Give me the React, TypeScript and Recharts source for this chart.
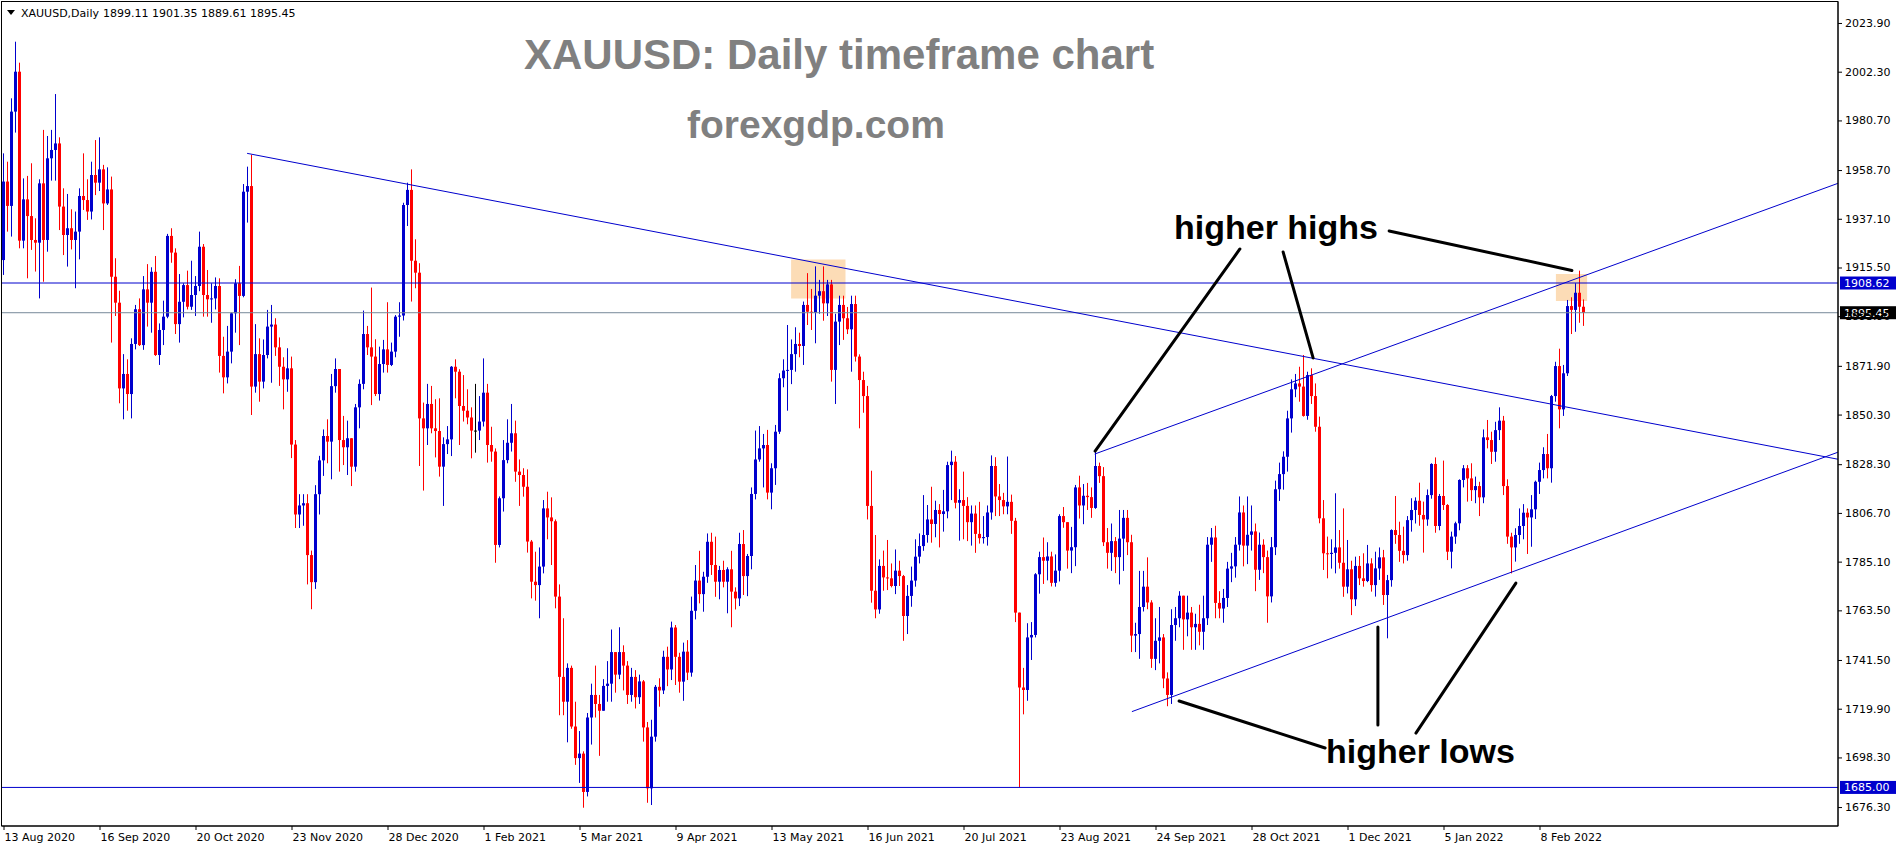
import React from "react";
import { ComposedChart, Bar, XAxis, YAxis, ReferenceLine, ReferenceArea } from "recharts";

// daily XAUUSD bars, 13 Aug 2020 .. 23 Feb 2022 (open = previous close)
const firstOpen = 1918.8;

const closes = [
  1953.6, 1942.8, 1984.6, 2002.3, 1927.4, 1945.7, 1938.3, 1927.7, 1926.5, 1952.8,
  1927.7, 1963.9, 1967.6, 1970.5, 1942.5, 1929.9, 1932.9, 1927.7, 1931.4, 1947.2,
  1945.4, 1940.3, 1956.5, 1953.1, 1959.0, 1943.9, 1950.1, 1911.4, 1899.9, 1861.9,
  1868.3, 1859.4, 1881.6, 1897.0, 1881.1, 1905.8, 1899.9, 1913.6, 1876.7, 1887.8,
  1893.7, 1929.5, 1922.1, 1890.4, 1900.3, 1907.7, 1898.1, 1903.3, 1907.3, 1924.7,
  1903.3, 1901.4, 1901.8, 1907.3, 1876.3, 1866.8, 1878.2, 1895.2, 1908.5, 1902.9,
  1949.1, 1951.6, 1862.7, 1877.1, 1864.9, 1876.7, 1889.3, 1890.2, 1880.1, 1871.5,
  1865.9, 1870.8, 1837.0, 1806.0, 1810.0, 1811.0, 1788.0, 1776.0, 1815.0, 1830.0,
  1840.8, 1838.3, 1862.9, 1870.5, 1839.0, 1835.8, 1839.8, 1827.2, 1853.5, 1863.9,
  1886.0, 1880.1, 1876.0, 1859.4, 1872.7, 1879.2, 1872.3, 1878.2, 1893.7, 1894.2,
  1943.2, 1949.9, 1918.5, 1913.2, 1848.6, 1844.2, 1855.0, 1844.2, 1843.0, 1827.2,
  1837.2, 1839.3, 1871.5, 1869.3, 1854.1, 1852.0, 1849.0, 1843.2, 1843.2, 1847.2,
  1860.0, 1836.8, 1833.9, 1792.5, 1813.2, 1830.1, 1837.8, 1842.0, 1825.0, 1823.5,
  1818.3, 1794.0, 1776.2, 1774.7, 1782.9, 1808.7, 1804.7, 1803.0, 1769.6, 1734.0,
  1723, 1738, 1712, 1698, 1700, 1683, 1716, 1726, 1722, 1719,
  1730, 1731, 1745, 1735, 1745, 1739, 1726, 1734, 1725, 1732,
  1711.6, 1684.6, 1707.5, 1729.6, 1728.0, 1742.9, 1737.3, 1755.9, 1742.9, 1731.9,
  1745.2, 1735.9, 1763.3, 1776.7, 1770.7, 1778.4, 1793.9, 1783.6, 1776.2, 1781.4,
  1776.2, 1781.7, 1771.8, 1768.8, 1792.9, 1778.7, 1787.6, 1815.1, 1830.4, 1835.3,
  1836.8, 1815.7, 1826.5, 1842.7, 1866.4, 1869.8, 1870.1, 1877.1, 1881.6, 1880.7,
  1898.9, 1895.9, 1895.5, 1903.0, 1905.0, 1899.6, 1908.0, 1870.1, 1891.5, 1898.9,
  1893.0, 1888.1, 1899.3, 1876.0, 1865.6, 1858.5, 1809.8, 1772.2, 1763.9, 1783.2,
  1778.1, 1777.7, 1774.3, 1781.1, 1778.7, 1761.0, 1769.9, 1776.7, 1787.3, 1792.0,
  1796.9, 1803.8, 1801.8, 1808.0, 1806.2, 1807.4, 1827.9, 1829.4, 1811.2, 1812.4,
  1809.8, 1802.6, 1806.4, 1797.4, 1795.5, 1796.0, 1806.9, 1827.5, 1814.0, 1812.4,
  1809.6, 1811.6, 1803.2, 1762.5, 1729.3, 1728.2, 1751.5, 1752.6, 1779.5, 1787.1,
  1785.5, 1787.4, 1775.7, 1781.1, 1805.3, 1802.6, 1790.0, 1791.5, 1818.0, 1810.0,
  1814.3, 1813.7, 1808.9, 1827.5, 1823.0, 1793.7, 1789.0, 1794.2, 1787.1, 1795.3,
  1804.5, 1793.7, 1752.3, 1753.0, 1765.0, 1774.0, 1767.0, 1742.0, 1750.0, 1751.5,
  1733.3, 1726.0, 1757.0, 1760.0, 1770.0, 1759.5, 1762.5, 1756.0, 1757.5, 1754.0,
  1760.0, 1792.6, 1795.8, 1766.8, 1764.3, 1769.0, 1782.0, 1783.0, 1792.6, 1806.9,
  1792.2, 1797.0, 1798.5, 1781.5, 1792.6, 1787.1, 1769.7, 1791.5, 1817.2, 1823.9,
  1831.6, 1848.6, 1861.5, 1864.1, 1862.7, 1849.7, 1867.8, 1858.5, 1844.9, 1804.3,
  1788.8, 1788.5, 1789.0, 1791.4, 1784.6, 1774.0, 1781.7, 1768.4, 1783.2, 1777.7,
  1776.5, 1784.3, 1774.7, 1782.1, 1787.0, 1770.3, 1776.9, 1799.1, 1796.9, 1789.9,
  1788.0, 1803.5, 1808.0, 1812.1, 1805.8, 1803.8, 1814.6, 1828.4, 1800.9, 1814.2,
  1810.2, 1789.5, 1796.2, 1802.1, 1821.3, 1826.5, 1822.0, 1816.8, 1818.6, 1813.6,
  1840.2, 1839.0, 1833.8, 1843.4, 1847.6, 1818.6, 1796.2, 1791.4, 1796.9, 1800.9,
  1806.8, 1804.7, 1808.3, 1820.5, 1825.7, 1832.8, 1826.5, 1858.5, 1871.8, 1852.6,
  1868.6, 1898.4, 1896.7, 1904.3, 1898.1, 1895.45,
];

const highs = [
  1966.1, 1962.4, 1990.5, 2015.6, 2006.3, 1955.0, 1956.1, 1961.7, 1937.3, 1954.6,
  1976.5, 1973.8, 1976.5, 1992.4, 1973.2, 1950.6, 1948.1, 1941.3, 1940.3, 1950.6,
  1966.1, 1954.6, 1962.4, 1972.0, 1973.2, 1961.0, 1959.9, 1955.8, 1919.6, 1905.2,
  1877.1, 1874.8, 1884.1, 1898.9, 1901.8, 1911.7, 1917.0, 1915.6, 1920.6, 1890.7,
  1900.8, 1930.4, 1932.9, 1924.0, 1912.6, 1908.5, 1914.1, 1918.5, 1911.7, 1931.4,
  1925.9, 1914.4, 1908.5, 1911.1, 1910.7, 1884.8, 1889.6, 1895.5, 1910.3, 1916.2,
  1952.5, 1960.2, 1965.4, 1890.4, 1884.1, 1883.6, 1896.7, 1898.9, 1893.0, 1884.5,
  1875.7, 1879.7, 1876.0, 1839.0, 1815.0, 1815.0, 1815.0, 1790.0, 1819.0, 1832.0,
  1843.7, 1848.2, 1868.3, 1875.2, 1870.4, 1849.7, 1847.6, 1839.0, 1855.0, 1865.9,
  1896.4, 1889.6, 1906.6, 1883.7, 1880.4, 1883.4, 1900.1, 1882.2, 1894.4, 1900.1,
  1944.2, 1953.1, 1959.0, 1928.0, 1917.4, 1855.6, 1863.9, 1863.0, 1857.1, 1857.5,
  1840.2, 1845.2, 1871.8, 1874.8, 1870.4, 1867.8, 1861.5, 1853.5, 1863.9, 1858.5,
  1875.2, 1863.9, 1844.9, 1835.3, 1814.0, 1839.0, 1848.2, 1855.0, 1847.6, 1830.4,
  1826.5, 1826.0, 1794.7, 1789.5, 1791.4, 1812.4, 1816.1, 1813.6, 1803.8, 1775.0,
  1760, 1740, 1739, 1723, 1710, 1701, 1718, 1731, 1739, 1726,
  1733, 1741, 1755, 1745, 1756, 1748, 1741, 1738, 1737, 1735,
  1732.6, 1714.0, 1715.0, 1730.4, 1733.4, 1745.6, 1747.4, 1758.5, 1757.0, 1744.7,
  1749.2, 1750.3, 1769.6, 1783.6, 1789.9, 1780.6, 1797.6, 1797.9, 1796.2, 1783.2,
  1785.5, 1782.6, 1789.9, 1773.7, 1797.9, 1799.1, 1788.5, 1818.0, 1843.2, 1845.2,
  1841.7, 1843.5, 1828.7, 1845.7, 1868.6, 1874.8, 1890.0, 1883.6, 1889.0, 1886.6,
  1900.4, 1913.0, 1906.0, 1916.0, 1910.0, 1916.0, 1910.0, 1910.0, 1895.0, 1903.0,
  1903.0, 1898.0, 1903.0, 1903.0, 1877.0, 1869.3, 1863.0, 1825.4, 1796.9, 1786.1,
  1790.0, 1794.7, 1784.3, 1790.5, 1785.5, 1779.2, 1774.7, 1782.9, 1795.0, 1797.6,
  1814.6, 1810.2, 1818.3, 1812.1, 1810.6, 1816.9, 1829.4, 1834.3, 1831.9, 1817.2,
  1825.0, 1813.7, 1810.0, 1810.0, 1811.6, 1805.3, 1810.0, 1832.2, 1831.4, 1819.5,
  1815.6, 1831.7, 1814.8, 1804.5, 1762.5, 1738.0, 1757.8, 1758.3, 1780.0, 1789.5,
  1795.8, 1793.7, 1789.5, 1788.3, 1806.1, 1809.3, 1802.6, 1800.5, 1819.1, 1823.2,
  1819.5, 1820.0, 1818.0, 1834.3, 1829.0, 1827.0, 1800.0, 1802.0, 1796.0, 1808.0,
  1808.0, 1808.0, 1797.0, 1758.0, 1781.0, 1781.0, 1787.0, 1768.0, 1760.0, 1765.0,
  1753.0, 1736.0, 1764.0, 1765.0, 1772.0, 1770.0, 1770.0, 1765.0, 1762.0, 1766.0,
  1770.0, 1796.0, 1800.0, 1801.0, 1772.0, 1773.0, 1785.0, 1789.0, 1796.0, 1814.0,
  1810.0, 1814.0, 1810.0, 1802.0, 1798.0, 1795.0, 1790.0, 1796.0, 1821.0, 1829.0,
  1834.0, 1852.0, 1865.9, 1868.3, 1871.5, 1876.7, 1869.3, 1870.8, 1864.1, 1849.4,
  1812.4, 1796.2, 1795.0, 1815.4, 1799.1, 1808.7, 1794.7, 1785.5, 1787.3, 1787.6,
  1788.8, 1792.5, 1786.6, 1789.5, 1791.4, 1790.3, 1779.2, 1799.4, 1814.2, 1802.8,
  1800.6, 1805.3, 1813.2, 1813.6, 1820.1, 1811.7, 1817.1, 1828.7, 1831.3, 1815.1,
  1829.9, 1810.6, 1798.4, 1802.8, 1821.6, 1827.9, 1827.9, 1828.7, 1822.8, 1820.5,
  1843.7, 1847.9, 1842.7, 1847.1, 1853.5, 1849.7, 1821.6, 1797.9, 1799.9, 1808.7,
  1810.6, 1808.7, 1814.6, 1821.0, 1829.0, 1835.8, 1841.7, 1859.0, 1873.7, 1879.5,
  1872.3, 1901.1, 1902.3, 1908.5, 1914.1, 1901.35,
];

const lows = [
  1912.2, 1931.4, 1929.2, 1975.3, 1924.0, 1924.0, 1910.7, 1923.3, 1913.7, 1901.8,
  1909.2, 1922.5, 1954.0, 1954.0, 1932.1, 1921.0, 1915.9, 1923.5, 1906.3, 1919.1,
  1941.0, 1936.6, 1936.8, 1947.6, 1949.4, 1932.1, 1943.2, 1882.2, 1894.0, 1855.3,
  1848.2, 1852.0, 1848.6, 1879.2, 1880.7, 1879.0, 1889.3, 1886.6, 1876.3, 1872.3,
  1881.1, 1893.0, 1917.6, 1886.0, 1882.2, 1893.4, 1896.9, 1896.7, 1894.0, 1905.0,
  1893.7, 1893.7, 1891.0, 1896.9, 1868.9, 1859.7, 1864.1, 1873.0, 1886.6, 1881.1,
  1902.3, 1935.4, 1850.1, 1860.0, 1856.0, 1861.9, 1875.2, 1864.4, 1876.3, 1863.0,
  1852.6, 1860.4, 1831.0, 1800.0, 1800.0, 1801.0, 1775.0, 1764.0, 1773.0, 1806.0,
  1823.1, 1828.7, 1821.6, 1860.0, 1825.0, 1827.9, 1823.5, 1818.6, 1825.0, 1844.2,
  1861.5, 1876.7, 1854.5, 1858.5, 1856.5, 1868.9, 1868.9, 1871.8, 1875.7, 1884.8,
  1892.0, 1933.9, 1900.4, 1906.3, 1827.5, 1816.6, 1836.8, 1842.0, 1831.3, 1822.8,
  1809.8, 1832.8, 1831.9, 1857.5, 1836.8, 1847.2, 1846.0, 1830.9, 1833.4, 1839.0,
  1845.0, 1829.0, 1829.4, 1784.6, 1791.4, 1807.3, 1828.7, 1833.9, 1820.5, 1809.8,
  1813.9, 1789.1, 1768.8, 1767.8, 1760.0, 1779.9, 1795.0, 1783.6, 1764.4, 1717.0,
  1717, 1705, 1711, 1695, 1687, 1676, 1681, 1704, 1716, 1699,
  1719, 1723, 1723, 1727, 1733, 1728, 1722, 1723, 1720, 1722,
  1705.3, 1678.2, 1677.2, 1705.3, 1720.8, 1726.4, 1729.9, 1732.6, 1730.4, 1727.0,
  1723.4, 1732.6, 1734.1, 1759.5, 1766.6, 1762.9, 1775.7, 1779.2, 1769.5, 1768.4,
  1773.7, 1762.2, 1756.0, 1763.9, 1765.4, 1770.3, 1769.8, 1781.7, 1812.7, 1829.4,
  1818.0, 1812.7, 1808.3, 1819.1, 1841.7, 1862.4, 1852.0, 1863.8, 1869.3, 1875.7,
  1872.3, 1890.0, 1887.8, 1881.9, 1895.0, 1891.9, 1894.0, 1864.9, 1855.0, 1881.1,
  1883.4, 1886.0, 1869.3, 1873.8, 1844.2, 1851.1, 1803.8, 1766.9, 1760.0, 1762.0,
  1772.2, 1772.5, 1773.7, 1770.7, 1774.3, 1750.0, 1753.0, 1765.1, 1774.0, 1784.3,
  1789.9, 1793.5, 1793.5, 1795.9, 1791.4, 1798.4, 1804.3, 1812.4, 1808.7, 1794.4,
  1795.0, 1794.2, 1792.2, 1789.0, 1793.1, 1793.1, 1792.2, 1803.7, 1805.3, 1805.3,
  1806.1, 1806.1, 1797.4, 1758.3, 1685.0, 1717.4, 1723.4, 1741.5, 1751.5, 1770.9,
  1775.2, 1776.8, 1774.1, 1774.0, 1776.3, 1800.1, 1782.0, 1780.0, 1783.1, 1804.2,
  1801.7, 1808.0, 1804.5, 1808.5, 1820.0, 1792.0, 1782.0, 1781.0, 1780.0, 1775.0,
  1781.0, 1788.0, 1745.0, 1745.0, 1742.0, 1763.0, 1764.0, 1738.0, 1737.0, 1740.0,
  1729.0, 1721.0, 1722.0, 1750.0, 1756.0, 1746.0, 1752.0, 1746.0, 1746.0, 1748.0,
  1746.0, 1757.0, 1785.0, 1760.0, 1760.0, 1758.0, 1765.0, 1776.0, 1778.0, 1790.0,
  1783.0, 1784.0, 1790.0, 1772.0, 1777.0, 1780.0, 1758.0, 1767.0, 1788.0, 1812.0,
  1817.0, 1825.0, 1842.3, 1858.0, 1856.0, 1849.4, 1848.0, 1855.0, 1842.7, 1802.1,
  1781.4, 1777.7, 1782.0, 1779.9, 1782.0, 1769.5, 1771.0, 1761.4, 1765.4, 1774.7,
  1774.0, 1776.0, 1771.8, 1769.6, 1777.0, 1765.9, 1751.1, 1774.0, 1793.0, 1785.0,
  1784.3, 1785.5, 1798.4, 1802.0, 1801.0, 1789.1, 1801.0, 1813.0, 1797.9, 1799.0,
  1808.0, 1785.8, 1782.1, 1793.0, 1799.0, 1818.0, 1811.7, 1812.0, 1811.0, 1805.3,
  1811.0, 1835.3, 1828.4, 1829.4, 1839.0, 1814.6, 1793.0, 1779.9, 1785.1, 1793.0,
  1795.0, 1788.5, 1791.7, 1804.0, 1815.1, 1822.0, 1822.0, 1820.1, 1856.0, 1844.2,
  1849.7, 1867.4, 1886.0, 1887.0, 1891.0, 1889.61,
];

const dateLabels = [
  "13 Aug 2020", "16 Sep 2020", "20 Oct 2020", "23 Nov 2020", "28 Dec 2020", "1 Feb 2021",
  "5 Mar 2021", "9 Apr 2021", "13 May 2021", "16 Jun 2021", "20 Jul 2021", "23 Aug 2021",
  "24 Sep 2021", "28 Oct 2021", "1 Dec 2021", "5 Jan 2022", "8 Feb 2022",
];
const dateTickIdx = [0, 24, 48, 72, 96, 120, 144, 168, 192, 216, 240, 264, 288, 312, 336, 360, 384];

const priceTicks = [
  2023.9, 2002.3, 1980.7, 1958.7, 1937.1, 1915.5, 1893.9, 1871.9, 1850.3,
  1828.3, 1806.7, 1785.1, 1763.5, 1741.5, 1719.9, 1698.3, 1676.3,
];

// drawn objects, in (bar index, price)
const trendLines = [
  [[60.9, 1966.1], [458.6, 1830.5]],
  [[282.1, 1718.6], [458.6, 1833.6]],
  [[272.8, 1832.8], [458.6, 1952.8]],
];
const arrowLines = [
  [[309.1, 1923.7], [272.9, 1834.1]],
  [[319.9, 1922.4], [327.4, 1875.4]],
  [[346.4, 1931.7], [392.1, 1914.2]],
  [[293.9, 1723.3], [330.4, 1702.5]],
  [[343.6, 1756.1], [343.6, 1712.7]],
  [[378.1, 1775.6], [353.1, 1709.1]],
];
const zones = [
  [196.9, 210.5, 1901.8, 1919.0],
  [388.1, 395.9, 1900.6, 1912.6],
];
const levels = [
  { price: 1908.62, line: "#0000CD", tag: "#0000CD" },
  { price: 1895.45, line: "#778899", tag: "#000000" },
  { price: 1685.0, line: "#0000CD", tag: "#0000CD" },
];

const BULL = "#0000CD";
const BEAR = "#FF0000";
const AXIS_FONT = "DejaVu Sans";

const candles = closes.map((close, i) => {
  const open = i === 0 ? firstOpen : closes[i - 1];
  const high = Math.max(highs[i], open, close);
  const low = Math.min(lows[i], open, close);
  return { i, open, close, high, low, range: [low, high] };
});

const Candle = (props: any) => {
  const { x, y, width, height, payload } = props;
  if (x == null || y == null || !payload) return null;
  const { open, close, high, low } = payload;
  const k = high > low ? height / (high - low) : 0;
  const py = (p: number) => y + (high - p) * k;
  const cx = Math.floor(x + width / 2);
  const color = close > open ? BULL : close < open ? BEAR : "#000";
  const top = py(Math.max(open, close));
  const bot = py(Math.min(open, close));
  return (
    <g>
      <line x1={cx + 0.5} x2={cx + 0.5} y1={y} y2={y + height} stroke={color} strokeWidth={1} />
      <rect x={cx - 1} y={top} width={3} height={Math.max(1, bot - top)} fill={color} />
    </g>
  );
};

const DateTick = ({ x, y, payload }: any) => {
  const k = dateTickIdx.indexOf(payload.value);
  return (
    <g>
      <line x1={x + 0.5} x2={x + 0.5} y1={y} y2={y + 4} stroke="#000" />
      <text x={x + 1} y={y + 15} fontSize={11} fontFamily={AXIS_FONT} fill="#000">
        {k >= 0 ? dateLabels[k] : ""}
      </text>
    </g>
  );
};

const PriceTick = ({ x, y, payload }: any) => (
  <g>
    <line x1={x} x2={x + 4} y1={y + 0.5} y2={y + 0.5} stroke="#000" />
    <text x={x + 7} y={y + 4} fontSize={11} fontFamily={AXIS_FONT} fill="#000">
      {Number(payload.value).toFixed(2)}
    </text>
  </g>
);

const tag = (price: number, bg: string) => (props: any) => {
  const vb = props.viewBox || {};
  const right = (vb.x || 0) + (vb.width || 0);
  const y = vb.y || 0;
  return (
    <g>
      <rect x={right + 2} y={y - 6.5} width={56} height={13} fill={bg} />
      <text x={right + 6} y={y + 4} fontSize={11} fontFamily={AXIS_FONT} fill="#fff">
        {price.toFixed(2)}
      </text>
    </g>
  );
};

export default function App() {
  return (
    <div style={{ position: "absolute", left: 0, top: 0, width: 1902, height: 850, background: "#fff" }}>
      <ComposedChart
        width={1902}
        height={850}
        data={candles}
        margin={{ top: 2, right: 0, bottom: 0, left: 2 }}
      >
        <XAxis
          dataKey="i"
          type="number"
          domain={[-0.375, 458.625]}
          allowDataOverflow
          ticks={dateTickIdx}
          interval={0}
          height={24}
          tickSize={0}
          tickMargin={0}
          tick={<DateTick />}
          axisLine={{ stroke: "#000" }}
        />
        <YAxis
          orientation="right"
          type="number"
          domain={[1667.9, 2033.2]}
          allowDataOverflow
          ticks={priceTicks}
          interval={0}
          width={64}
          tickSize={0}
          tickMargin={0}
          tick={<PriceTick />}
          axisLine={{ stroke: "#000" }}
        />
        {zones.map(([x1, x2, y1, y2], k) => (
          <ReferenceArea key={"z" + k} x1={x1} x2={x2} y1={y1} y2={y2} fill="#FAC07A" fillOpacity={0.55} stroke="none" />
        ))}
        <Bar dataKey="range" barSize={4} shape={<Candle />} isAnimationActive={false} />
        {levels.map((l, k) => (
          <ReferenceLine key={"l" + k} y={l.price} stroke={l.line} strokeWidth={1} label={tag(l.price, l.tag)} />
        ))}
        {trendLines.map(([a, b], k) => (
          <ReferenceLine
            key={"t" + k}
            segment={[{ x: a[0], y: a[1] }, { x: b[0], y: b[1] }]}
            stroke="#0000CD"
            strokeWidth={1}
          />
        ))}
        {arrowLines.map(([a, b], k) => (
          <ReferenceLine
            key={"a" + k}
            segment={[{ x: a[0], y: a[1] }, { x: b[0], y: b[1] }]}
            stroke="#000"
            strokeWidth={3}
            strokeLinecap="round"
          />
        ))}
      </ComposedChart>
      <svg
        width={1902}
        height={850}
        style={{ position: "absolute", left: 0, top: 0, pointerEvents: "none" }}
      >
        <rect x={1.5} y={1.5} width={1836.5} height={824.5} fill="none" stroke="#000" />
        <polygon points="7,10 15,10 11,15" fill="#000" />
        <text x={21} y={17} fontSize={11} fontFamily={AXIS_FONT} fill="#000">XAUUSD,Daily</text>
        <text x={103} y={17} fontSize={11} fontFamily={AXIS_FONT} fill="#000">1899.11 1901.35 1889.61 1895.45</text>
        <text x={524} y={69} fontSize={42} fontWeight="bold" fontFamily="Liberation Sans" fill="#808080">
          XAUUSD: Daily timeframe chart
        </text>
        <text x={687} y={138} fontSize={39} fontWeight="bold" fontFamily="Liberation Sans" fill="#808080">
          forexgdp.com
        </text>
        <text x={1174} y={239} fontSize={34} fontWeight="bold" fontFamily="Liberation Sans" fill="#000">
          higher highs
        </text>
        <text x={1326} y={763} fontSize={34} fontWeight="bold" fontFamily="Liberation Sans" fill="#000">
          higher lows
        </text>
      </svg>
    </div>
  );
}
